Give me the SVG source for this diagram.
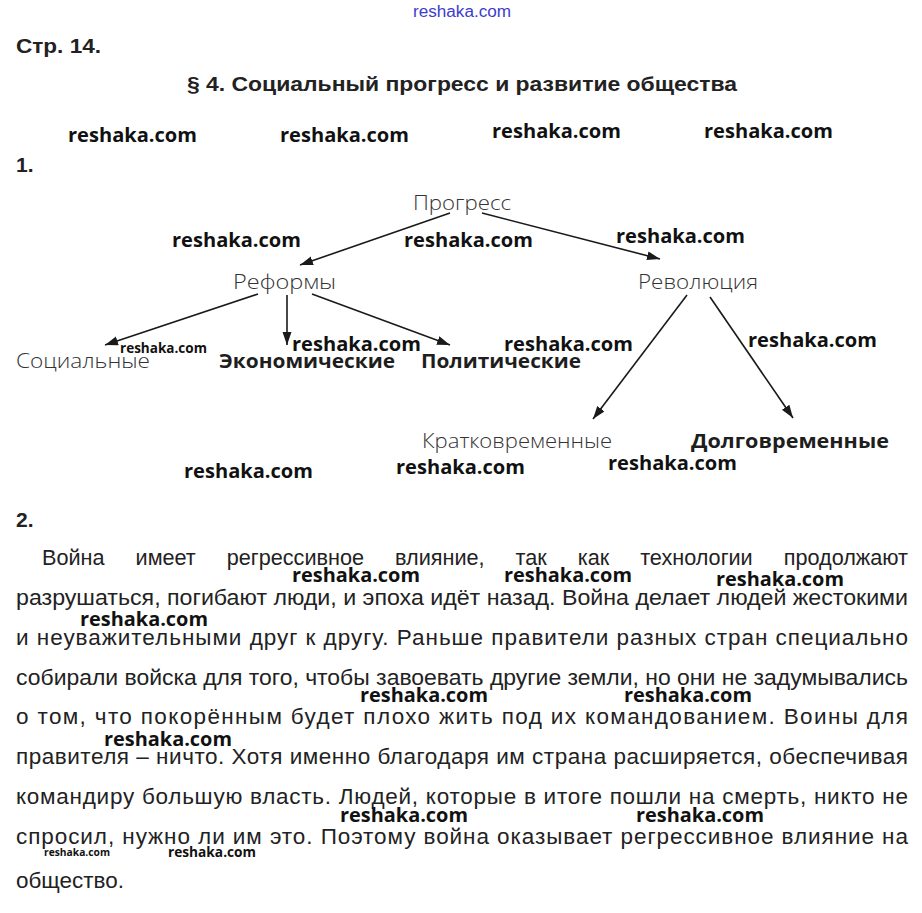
<svg xmlns="http://www.w3.org/2000/svg" width="922" height="913" viewBox="0 0 922 913">
<defs>
<marker id="ah" markerUnits="userSpaceOnUse" markerWidth="14" markerHeight="10" refX="13" refY="4.5" orient="auto">
<path d="M0,0 L13,4.5 L0,9 z" fill="#1a1a1a"/>
</marker>
<style>
.hd{font-family:"Liberation Sans",Arial,sans-serif;font-weight:bold;font-size:21px;fill:#222}
.lb{font-family:"Open Sans","Noto Sans",sans-serif;font-weight:300;font-size:21px;fill:#333}
.lbb{font-family:"Open Sans","Noto Sans",sans-serif;font-weight:700;font-size:20px;fill:#1e1e1e}
.wm{font-family:"Open Sans","Noto Sans",sans-serif;font-weight:700;font-size:20px;fill:#111}
.wms{font-family:"Open Sans","Noto Sans",sans-serif;font-weight:700;font-size:14px;fill:#111}
.wmt{font-family:"Liberation Sans",Arial,sans-serif;font-size:16px;fill:#3c3ccc}
.p{font-family:"Liberation Sans",Arial,sans-serif;font-size:22.5px;fill:#222}
.cn{stroke:#1a1a1a;stroke-width:1.6;fill:none;marker-end:url(#ah)}
</style>
</defs>
<rect width="922" height="913" fill="#ffffff"/>

<g id="header">
<text class="wmt" x="413" y="17" textLength="98" lengthAdjust="spacingAndGlyphs">reshaka.com</text>
<text class="hd" x="16" y="53" textLength="85" lengthAdjust="spacingAndGlyphs">Стр. 14.</text>
<text class="hd" x="187" y="91" textLength="550" lengthAdjust="spacingAndGlyphs">§ 4. Социальный прогресс и развитие общества</text>
<text class="hd" x="16" y="172">1.</text>
<text class="hd" x="16" y="527">2.</text>
</g>

<g id="connectors">
<line class="cn" x1="450" y1="213" x2="300" y2="265"/>
<line class="cn" x1="482" y1="213" x2="660" y2="259"/>
<line class="cn" x1="258" y1="294" x2="105" y2="345"/>
<line class="cn" x1="287" y1="295" x2="287" y2="345"/>
<line class="cn" x1="312" y1="294" x2="450" y2="345"/>
<line class="cn" x1="687" y1="295" x2="593" y2="419"/>
<line class="cn" x1="710" y1="297" x2="793" y2="418"/>
</g>

<g id="n-progress"><text class="lb" x="413" y="210" textLength="98" lengthAdjust="spacingAndGlyphs">Прогресс</text></g>
<g id="n-reforms"><text class="lb" x="233" y="289" textLength="103" lengthAdjust="spacingAndGlyphs">Реформы</text></g>
<g id="n-revolution"><text class="lb" x="638" y="289" textLength="120" lengthAdjust="spacingAndGlyphs">Революция</text></g>
<g id="n-social"><text class="lb" x="16" y="368" textLength="134" lengthAdjust="spacingAndGlyphs">Социальные</text></g>
<g id="n-economic"><text class="lbb" x="219" y="368" textLength="176" lengthAdjust="spacingAndGlyphs">Экономические</text></g>
<g id="n-political"><text class="lbb" x="421" y="368" textLength="160" lengthAdjust="spacingAndGlyphs">Политические</text></g>
<g id="n-short"><text class="lb" x="422" y="448" textLength="190" lengthAdjust="spacingAndGlyphs">Кратковременные</text></g>
<g id="n-long"><text class="lbb" x="691" y="448" textLength="198" lengthAdjust="spacingAndGlyphs">Долговременные</text></g>

<g id="paragraph">
<text class="p" x="42" y="565" textLength="866" lengthAdjust="spacingAndGlyphs" style="word-spacing:26px">Война имеет регрессивное влияние, так как технологии продолжают</text>
<text class="p" x="16" y="605" textLength="892" lengthAdjust="spacingAndGlyphs">разрушаться, погибают люди, и эпоха идёт назад. Война делает людей жестокими</text>
<text class="p" x="16" y="645" textLength="892" lengthAdjust="spacing">и неуважительными друг к другу. Раньше правители разных стран специально</text>
<text class="p" x="16" y="685" textLength="892" lengthAdjust="spacingAndGlyphs">собирали войска для того, чтобы завоевать другие земли, но они не задумывались</text>
<text class="p" x="16" y="724" textLength="892" lengthAdjust="spacing">о том, что покорённым будет плохо жить под их командованием. Воины для</text>
<text class="p" x="16" y="764" textLength="892" lengthAdjust="spacing">правителя – ничто. Хотя именно благодаря им страна расширяется, обеспечивая</text>
<text class="p" x="16" y="804" textLength="892" lengthAdjust="spacing">командиру большую власть. Людей, которые в итоге пошли на смерть, никто не</text>
<text class="p" x="16" y="844" textLength="892" lengthAdjust="spacing">спросил, нужно ли им это. Поэтому война оказывает регрессивное влияние на</text>
<text class="p" x="16" y="888" textLength="108" lengthAdjust="spacingAndGlyphs">общество.</text>
</g>

<g id="watermarks">
<text class="wm" x="68" y="142" textLength="129" lengthAdjust="spacingAndGlyphs">reshaka.com</text>
<text class="wm" x="280" y="142" textLength="129" lengthAdjust="spacingAndGlyphs">reshaka.com</text>
<text class="wm" x="492" y="138" textLength="129" lengthAdjust="spacingAndGlyphs">reshaka.com</text>
<text class="wm" x="704" y="138" textLength="129" lengthAdjust="spacingAndGlyphs">reshaka.com</text>
<text class="wm" x="172" y="247" textLength="129" lengthAdjust="spacingAndGlyphs">reshaka.com</text>
<text class="wm" x="404" y="247" textLength="129" lengthAdjust="spacingAndGlyphs">reshaka.com</text>
<text class="wm" x="616" y="243" textLength="129" lengthAdjust="spacingAndGlyphs">reshaka.com</text>
<text class="wms" x="120" y="353" textLength="87" lengthAdjust="spacingAndGlyphs">reshaka.com</text>
<text class="wm" x="292" y="351" textLength="129" lengthAdjust="spacingAndGlyphs">reshaka.com</text>
<text class="wm" x="504" y="351" textLength="129" lengthAdjust="spacingAndGlyphs">reshaka.com</text>
<text class="wm" x="748" y="347" textLength="129" lengthAdjust="spacingAndGlyphs">reshaka.com</text>
<text class="wm" x="184" y="478" textLength="129" lengthAdjust="spacingAndGlyphs">reshaka.com</text>
<text class="wm" x="396" y="474" textLength="129" lengthAdjust="spacingAndGlyphs">reshaka.com</text>
<text class="wm" x="608" y="470" textLength="129" lengthAdjust="spacingAndGlyphs">reshaka.com</text>
<text class="wm" x="292" y="582" textLength="128" lengthAdjust="spacingAndGlyphs">reshaka.com</text>
<text class="wm" x="504" y="582" textLength="128" lengthAdjust="spacingAndGlyphs">reshaka.com</text>
<text class="wm" x="716" y="586" textLength="128" lengthAdjust="spacingAndGlyphs">reshaka.com</text>
<text class="wm" x="80" y="626" textLength="128" lengthAdjust="spacingAndGlyphs">reshaka.com</text>
<text class="wm" x="360" y="702" textLength="128" lengthAdjust="spacingAndGlyphs">reshaka.com</text>
<text class="wm" x="624" y="702" textLength="128" lengthAdjust="spacingAndGlyphs">reshaka.com</text>
<text class="wm" x="104" y="746" textLength="128" lengthAdjust="spacingAndGlyphs">reshaka.com</text>
<text class="wm" x="340" y="822" textLength="128" lengthAdjust="spacingAndGlyphs">reshaka.com</text>
<text class="wm" x="636" y="822" textLength="128" lengthAdjust="spacingAndGlyphs">reshaka.com</text>
<text class="wms" x="44" y="856" style="font-size:11px" textLength="66" lengthAdjust="spacingAndGlyphs">reshaka.com</text>
<text class="wms" x="168" y="857" textLength="88" lengthAdjust="spacingAndGlyphs">reshaka.com</text>
</g>
</svg>
